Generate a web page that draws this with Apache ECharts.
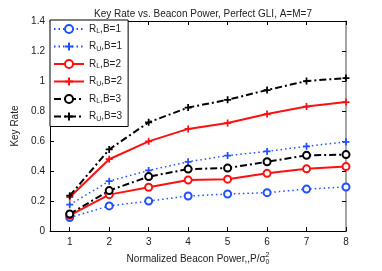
<!DOCTYPE html>
<html><head><meta charset="utf-8">
<script src="https://cdn.jsdelivr.net/npm/echarts@6/dist/echarts.min.js"></script>
<style>html,body{margin:0;padding:0;background:#fff}#c{width:382px;height:271px}</style>
</head><body><div id="c"></div>
<script>
const powers = [1, 2, 3, 4, 5, 6, 7, 8];
const yTicks = [0, 0.2, 0.4, 0.6, 0.8, 1, 1.2, 1.4];
const seriesNames = ['RL,B=1', 'RU,B=1', 'RL,B=2', 'RU,B=2', 'RL,B=3', 'RU,B=3'];
const rl_b1 = [0.09, 0.168, 0.20, 0.234, 0.247, 0.256, 0.28, 0.294];
const ru_b1 = [0.176, 0.333, 0.404, 0.462, 0.503, 0.531, 0.565, 0.595];
const rl_b2 = [0.105, 0.243, 0.292, 0.34, 0.346, 0.385, 0.415, 0.43];
const ru_b2 = [0.226, 0.479, 0.598, 0.681, 0.72, 0.78, 0.83, 0.86];
const rl_b3 = [0.114, 0.27, 0.363, 0.413, 0.42, 0.462, 0.505, 0.51];
const ru_b3 = [0.236, 0.544, 0.725, 0.823, 0.875, 0.94, 1.0, 1.02];

const FONT = 'Liberation Sans';
const BLUE = '#2050ff', RED = '#ff1010', BLACK = '#000000';
const PLUS = 'path://M3,0H5V3H8V5H5V8H3V5H0V3H3Z';
const values = [rl_b1, ru_b1, rl_b2, ru_b2, rl_b3, ru_b3];
const styles = [
  {c: BLUE, t: [1.5, 3], w: 1.5, s: 'emptyCircle', z: 7},
  {c: BLUE, t: [1.5, 3], w: 1.5, s: PLUS, z: 7},
  {c: RED, t: 'solid', w: 2, s: 'emptyCircle', z: 7},
  {c: RED, t: 'solid', w: 2, s: PLUS, z: 7},
  {c: BLACK, t: [7, 3, 2, 3], w: 2, s: 'emptyCircle', z: 7},
  {c: BLACK, t: [7, 3, 2, 3], w: 2, s: PLUS, z: 7}
];
const series = seriesNames.map((n, i) => {
  const circ = styles[i].s === 'emptyCircle';
  return {
    name: n, type: 'line', xAxisIndex: 0, yAxisIndex: 0,
    data: powers.map((p, k) => [p, values[i][k]]),
    symbol: styles[i].s, symbolSize: styles[i].z, showSymbol: true,
    itemStyle: circ ? {color: styles[i].c, borderColor: styles[i].c, borderWidth: 2}
                    : {color: styles[i].c, borderWidth: 0},
    lineStyle: {color: styles[i].c, width: styles[i].w, type: styles[i].t},
    animation: false, z: 3
  };
});
const chart = echarts.init(document.getElementById('c'), null, {renderer: 'canvas'});
const tickStyle = {inside: true, length: 4, lineStyle: {color: '#000'}};
chart.setOption({
  backgroundColor: '#fff',
  animation: false,
  title: {text: 'Key Rate vs. Beacon Power, Perfect GLI, A=M=7', left: 198, textAlign: 'center', top: 4,
    textStyle: {fontFamily: FONT, fontSize: 10, fontWeight: 'normal', color: '#222'}},
  grid: {left: 50, right: 36, top: 21, bottom: 33},
  legend: {
    orient: 'vertical', left: 50, top: 20, width: 71,
    padding: [4, 6, 4, 3], itemGap: 6.5, itemWidth: 30, itemHeight: 10,
    backgroundColor: '#fff', borderColor: '#000', borderWidth: 1,
    data: seriesNames,
    formatter: n => '{r|R}{s|' + n[1] + '}{r|' + n.slice(2) + '}',
    textStyle: {fontFamily: FONT, fontSize: 10, color: '#222', rich: {
      r: {fontFamily: FONT, fontSize: 10, color: '#222'},
      s: {fontFamily: FONT, fontSize: 7, color: '#222', verticalAlign: 'bottom', padding: [5, 0, 0, 0]}
    }}
  },
  xAxis: [{
    type: 'value', min: 0.5, max: 8, position: 'bottom',
    axisLine: {onZero: false, lineStyle: {color: '#000', width: 1}},
    axisTick: Object.assign({customValues: powers}, tickStyle),
    axisLabel: {customValues: powers, fontFamily: FONT, fontSize: 10, color: '#222', margin: 6},
    splitLine: {show: false},
    name: '{a|Normalized Beacon Power,,P/σ}{b|0}{c|2}', nameLocation: 'middle', nameGap: 19,
    nameTextStyle: {fontFamily: FONT, fontSize: 10, color: '#222', rich: {
      a: {fontFamily: FONT, fontSize: 10, color: '#222'},
      b: {fontFamily: FONT, fontSize: 7, color: '#222', padding: [6, 0, 0, 0]},
      c: {fontFamily: FONT, fontSize: 7, color: '#222', padding: [0, 0, 8, -4]}
    }}
  }, {
    type: 'value', min: 0.5, max: 8, position: 'top',
    axisLine: {onZero: false, lineStyle: {color: '#000', width: 1}},
    axisTick: Object.assign({customValues: powers}, tickStyle),
    axisLabel: {show: false}, splitLine: {show: false}
  }],
  yAxis: [{
    type: 'value', min: 0, max: 1.4, interval: 0.2, position: 'left',
    axisLine: {show: true, onZero: false, lineStyle: {color: '#000', width: 1}},
    axisTick: Object.assign({show: true}, tickStyle),
    axisLabel: {fontFamily: FONT, fontSize: 10, color: '#222', margin: 5,
      formatter: v => String(Math.round(v * 10) / 10)},
    splitLine: {show: false},
    name: 'Key Rate', nameLocation: 'middle', nameGap: 26, nameRotate: 90,
    nameTextStyle: {fontFamily: FONT, fontSize: 10, color: '#222'}
  }, {
    type: 'value', min: 0, max: 1.4, interval: 0.2, position: 'right',
    axisLine: {show: true, onZero: false, lineStyle: {color: '#888', width: 1.5}},
    axisTick: Object.assign({show: true}, tickStyle),
    axisLabel: {show: false}, splitLine: {show: false}
  }],
  series: series
});
</script></body></html>
